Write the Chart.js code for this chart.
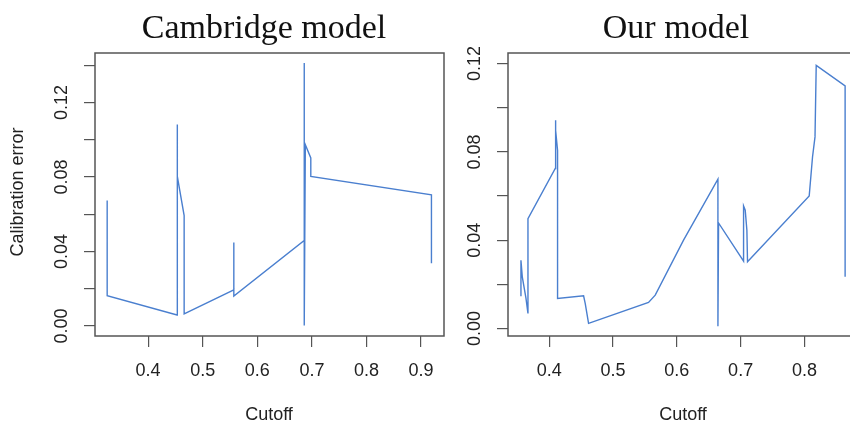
<!DOCTYPE html>
<html>
<head>
<meta charset="utf-8">
<script src="https://cdn.jsdelivr.net/npm/chart.js@4/dist/chart.umd.min.js"></script>
<style>
    html, body { margin: 0; padding: 0; background: #fff; overflow: hidden; width: 850px; height: 424px; }
    canvas { position: absolute; top: 0; }
    #leftChart { left: 0; }
    #rightChart { left: 450px; }
</style>
</head>
<body>
<canvas id="leftChart" width="455" height="424"></canvas>
<canvas id="rightChart" width="420" height="424"></canvas>
<script>
// Cambridge model
const leftCutoff = [0.325, 0.325, 0.453, 0.453, 0.454, 0.466, 0.466, 0.557, 0.557, 0.557, 0.686, 0.686, 0.686, 0.688, 0.698, 0.698, 0.919, 0.919];
const leftError = [0.0674, 0.0163, 0.0059, 0.1082, 0.0803, 0.0593, 0.0065, 0.0194, 0.0448, 0.0161, 0.0459, 0.1412, 0.0002, 0.0973, 0.0902, 0.0803, 0.0704, 0.0337];

// Our model
const rightCutoff = [0.3556, 0.3556, 0.3577, 0.3635, 0.3666, 0.3666, 0.4094, 0.4094, 0.4105, 0.413, 0.413, 0.4538, 0.4564, 0.4616, 0.5556, 0.5661, 0.6105, 0.6644, 0.6644, 0.6654, 0.7046, 0.7046, 0.7072, 0.7098, 0.7108, 0.8075, 0.8127, 0.8166, 0.8185, 0.8638, 0.8638];
const rightError = [0.0146, 0.0309, 0.0234, 0.0136, 0.0068, 0.0498, 0.0725, 0.0943, 0.0898, 0.0807, 0.0136, 0.0148, 0.0113, 0.0023, 0.0118, 0.0151, 0.040, 0.0676, 0.001, 0.0478, 0.0305, 0.0555, 0.0536, 0.0445, 0.0302, 0.060, 0.0777, 0.0868, 0.1192, 0.1099, 0.0234];

const leftXTicks = [0.4, 0.5, 0.6, 0.7, 0.8, 0.9];
const leftYTicks = [0, 0.02, 0.04, 0.06, 0.08, 0.10, 0.12, 0.14];
const leftYLabels = ["0.00", "", "0.04", "", "0.08", "", "0.12", ""];
const rightXTicks = [0.4, 0.5, 0.6, 0.7, 0.8];
const rightYTicks = [0, 0.02, 0.04, 0.06, 0.08, 0.10, 0.12];
const rightYLabels = ["0.00", "", "0.04", "", "0.08", "", "0.12"];

const sans = "'Liberation Sans', Arial, sans-serif";
const axisGrey = "#555";

// box, panel title and axis titles
const panelText = {
    id: "panelText",
    afterDraw(chart, args, opts) {
        const { ctx, chartArea: a } = chart;
        ctx.save();
        ctx.strokeStyle = axisGrey;
        ctx.lineWidth = 1.5;
        ctx.strokeRect(a.left, a.top, a.right - a.left, a.bottom - a.top);

        ctx.fillStyle = "#111";
        ctx.textAlign = "center";
        ctx.textBaseline = "alphabetic";
        ctx.font = "34px 'Liberation Serif', 'Times New Roman', serif";
        ctx.fillText(opts.title, opts.titleX, 38);

        ctx.fillStyle = "#222";
        ctx.textBaseline = "middle";
        ctx.font = "18px " + sans;
        ctx.fillText("Cutoff", opts.xTitleX, 415);

        if (opts.yTitle) {
            ctx.translate(18, 192);
            ctx.rotate(-Math.PI / 2);
            ctx.font = "18px " + sans;
            ctx.fillText(opts.yTitle, 0, 0);
        }
        ctx.restore();
    },
};

const makeChart = (id, xs, ys, cfg) => {
    const ctx = document.getElementById(id).getContext("2d");
    return new Chart(ctx, {
        type: "scatter",
        data: {
            datasets: [
                {
                    data: xs.map((x, i) => ({ x: x, y: ys[i] })),
                    showLine: true,
                    borderColor: "#4a7fcf",
                    borderWidth: 1.4,
                    pointRadius: 0,
                    tension: 0,
                },
            ],
        },
        options: {
            responsive: false,
            animation: false,
            devicePixelRatio: 1,
            layout: { padding: { top: 53, right: cfg.padRight, left: 0, bottom: 0 } },
            plugins: {
                legend: { display: false },
                tooltip: { enabled: false },
                panelText: cfg.text,
            },
            scales: {
                x: {
                    type: "linear",
                    min: cfg.xMin,
                    max: cfg.xMax,
                    afterBuildTicks: s => { s.ticks = cfg.xTicks.map(v => ({ value: v })); },
                    afterFit: s => { s.height = 88; },
                    grid: { drawOnChartArea: false, drawTicks: true, tickLength: 11, color: axisGrey, lineWidth: 1.2 },
                    border: { display: false },
                    ticks: {
                        padding: 13,
                        maxRotation: 0,
                        color: "#222",
                        font: { family: sans, size: 18 },
                        callback: v => v.toFixed(1),
                    },
                },
                y: {
                    type: "linear",
                    min: cfg.yMin,
                    max: cfg.yMax,
                    afterBuildTicks: s => { s.ticks = cfg.yTicks.map(v => ({ value: v })); },
                    afterFit: s => { s.width = cfg.yWidth; },
                    grid: { drawOnChartArea: false, drawTicks: true, tickLength: 11, color: axisGrey, lineWidth: 1.2 },
                    border: { display: false },
                    ticks: {
                        padding: 4,
                        minRotation: 90,
                        maxRotation: 90,
                        crossAlign: "center",
                        color: "#222",
                        font: { family: sans, size: 18 },
                        callback: (v, i) => cfg.yLabels[i],
                    },
                },
            },
        },
        plugins: [panelText],
    });
};

makeChart("leftChart", leftCutoff, leftError, {
    xMin: 0.3027, xMax: 0.942, yMin: -0.0054, yMax: 0.1466,
    xTicks: leftXTicks, yTicks: leftYTicks, yLabels: leftYLabels,
    yWidth: 95, padRight: 11,
    text: { title: "Cambridge model", titleX: 264, xTitleX: 269, yTitle: "Calibration error" },
});

makeChart("rightChart", rightCutoff, rightError, {
    xMin: 0.3353, xMax: 0.884, yMin: -0.0034, yMax: 0.1248,
    xTicks: rightXTicks, yTicks: rightYTicks, yLabels: rightYLabels,
    yWidth: 58, padRight: 12,
    text: { title: "Our model", titleX: 226, xTitleX: 233, yTitle: "" },
});
</script>
</body>
</html>
